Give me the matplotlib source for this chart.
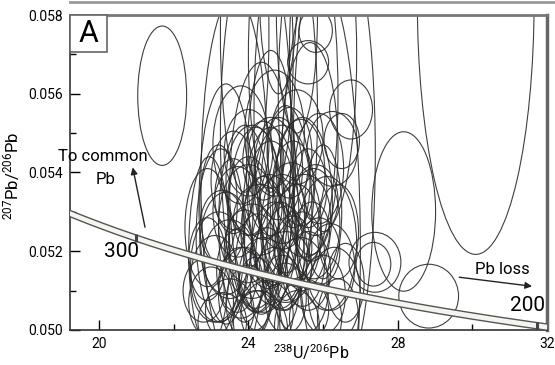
import numpy as np
import matplotlib
matplotlib.use('Agg')
from matplotlib import pyplot as plt
from matplotlib import font_manager
from matplotlib.patches import Ellipse, Rectangle
from matplotlib.lines import Line2D

# Fonts: narrow sans if present, otherwise Roboto
names = {f.name for f in font_manager.fontManager.ttflist}
narrow = 'Liberation Sans Narrow' if 'Liberation Sans Narrow' in names else 'Roboto'
plt.rcParams['font.family'] = [narrow, 'DejaVu Sans']
plt.rcParams['mathtext.fontset'] = 'custom'
plt.rcParams['mathtext.rm'] = narrow
plt.rcParams['mathtext.it'] = narrow

# Error ellipses: centre (238U/206Pb, 207Pb/206Pb), full width, full height
ell_x = [23.63, 23.9, 24.2, 24.6, 25.0, 25.3, 25.6, 26.0, 25.9, 26.3, 24.8,
         23.4, 24.35, 24.6, 25.65, 24.2, 23.9, 24.6, 23.25, 22.95, 25.45, 25.0,
         25.6, 26.75, 25.8, 26.25, 26.5,
         23.1, 23.5, 23.8, 24.1, 24.4, 24.7, 25.0, 25.3, 25.6, 25.9,
         23.3, 23.7, 24.0, 24.3, 24.6, 24.9, 25.2, 25.5, 25.8, 24.8, 24.4, 25.1,
         23.0, 23.5, 24.0, 24.5, 25.0, 25.5, 26.0, 22.9, 26.2, 26.4,
         23.9, 24.5, 25.2, 24.2, 24.9, 25.7, 23.6, 25.9, 26.6,
         27.39, 27.35, 28.16, 28.83, 21.69, 30.09,
         22.8, 23.2, 26.0, 24.7, 23.8, 24.3, 25.3, 26.4,
         23.4, 23.7, 24.0, 24.25, 24.55, 24.85, 25.15, 25.45, 25.75, 23.2,
         24.1, 24.9, 25.4, 23.9, 24.7, 25.4, 26.1, 22.9, 24.4, 25.0,
         23.6, 25.6, 24.2, 25.8, 23.3, 26.3, 24.6, 25.3, 24.0]
ell_y = [0.0538, 0.0575, 0.0550, 0.0570, 0.0555, 0.0580, 0.0560, 0.0570, 0.0520, 0.0545, 0.0585,
         0.0532, 0.0536, 0.0541, 0.0546, 0.0528, 0.0527, 0.0529, 0.0524, 0.0520, 0.0532, 0.0531,
         0.0568, 0.0556, 0.0576, 0.0546, 0.0548,
         0.0513, 0.0518, 0.0512, 0.0520, 0.0514, 0.0522, 0.0516, 0.0524, 0.0515, 0.0520,
         0.0526, 0.0530, 0.0534, 0.0528, 0.0536, 0.0530, 0.0537, 0.0529, 0.0533, 0.0541, 0.0543, 0.0545,
         0.0507, 0.0505, 0.0507, 0.0504, 0.0508, 0.0505, 0.0509, 0.0518, 0.0516, 0.0525,
         0.0523, 0.0519, 0.0521, 0.0512, 0.0512, 0.0525, 0.0538, 0.0541, 0.0512,
         0.05172, 0.05167, 0.05301, 0.05086, 0.05595, 0.05838,
         0.0510, 0.0532, 0.0530, 0.0550, 0.0547, 0.0500, 0.0501, 0.0503,
         0.0522, 0.0515, 0.0527, 0.0517, 0.0525, 0.0519, 0.0527, 0.0518, 0.0527, 0.0516,
         0.0538, 0.0537, 0.0540, 0.0509, 0.0510, 0.0511, 0.0522, 0.0526, 0.0531, 0.0523,
         0.0534, 0.0536, 0.0502, 0.0503, 0.0502, 0.0509, 0.0545, 0.0549, 0.0545]
ell_w = [1.8, 1.3, 1.9, 1.2, 1.7, 1.1, 1.6, 1.8, 2.2, 2.2, 1.0,
         1.45, 1.7, 1.3, 1.5, 1.5, 1.4, 1.5, 1.3, 1.1, 1.6, 1.4,
         1.1, 1.15, 0.9, 1.35, 0.95,
         1.3, 1.4, 1.2, 1.5, 1.3, 1.2, 1.4, 1.3, 1.2, 1.1,
         1.2, 1.3, 1.1, 1.4, 1.2, 1.3, 1.1, 1.4, 1.2, 1.3, 1.1, 1.2,
         1.2, 1.3, 1.2, 1.4, 1.1, 1.3, 1.2, 1.0, 1.3, 1.1,
         1.0, 0.9, 1.0, 0.9, 1.0, 0.95, 1.2, 1.3, 1.0,
         1.39, 0.93, 1.71, 1.6, 1.31, 3.13,
         1.1, 1.0, 1.0, 1.6, 1.5, 1.5, 1.2, 1.1,
         1.4, 1.1, 1.6, 1.2, 1.5, 1.3, 1.6, 1.2, 1.4, 1.5,
         1.4, 1.5, 1.3, 1.4, 1.3, 1.5, 1.6, 1.2, 1.0, 1.0,
         1.0, 1.0, 1.2, 1.4, 1.3, 1.4, 1.2, 1.4, 1.3]
ell_h = [0.0094, 0.0080, 0.0100, 0.0070, 0.0095, 0.0060, 0.0085, 0.0090, 0.0140, 0.0120, 0.0050,
         0.0061, 0.0064, 0.0060, 0.0054, 0.0047, 0.0050, 0.0045, 0.0044, 0.0048, 0.0044, 0.0052,
         0.0011, 0.0015, 0.0011, 0.0019, 0.0014,
         0.0022, 0.0020, 0.0018, 0.0024, 0.0019, 0.0021, 0.0018, 0.0026, 0.0020, 0.0017,
         0.0019, 0.0023, 0.0020, 0.0018, 0.0024, 0.0019, 0.0022, 0.0021, 0.0018, 0.0026, 0.0020, 0.0023,
         0.0018, 0.0016, 0.0019, 0.0017, 0.0018, 0.0016, 0.0020, 0.0021, 0.0022, 0.0024,
         0.0015, 0.0014, 0.0016, 0.0013, 0.0014, 0.0015, 0.0025, 0.0028, 0.0020,
         0.00152, 0.00111, 0.00405, 0.00162, 0.00354, 0.01292,
         0.0016, 0.0030, 0.0034, 0.0032, 0.0030, 0.0020, 0.0018, 0.0020,
         0.0026, 0.0021, 0.0030, 0.0025, 0.0029, 0.0027, 0.0031, 0.0024, 0.0028, 0.0028,
         0.0028, 0.0030, 0.0027, 0.0024, 0.0022, 0.0025, 0.0034, 0.0030, 0.0016, 0.0017,
         0.0019, 0.0020, 0.0016, 0.0018, 0.0015, 0.0024, 0.0018, 0.0024, 0.0022]

# Concordia (Tera-Wasserburg) and labelled ages
lam238 = 1.55125e-10
lam235 = 9.8485e-10
u_ratio = 137.88
band_half = 0.00008
label_ages = [300, 200]  # Ma


def tw_point(t_ma):
    t = np.asarray(t_ma) * 1e6
    e238 = np.exp(lam238 * t) - 1
    e235 = np.exp(lam235 * t) - 1
    return 1 / e238, e235 / e238 / u_ratio


fig = plt.figure(figsize=(5.55, 3.65), dpi=100)
ax = fig.add_axes([0.1261, 0.0959, 0.8595, 0.8630])

for x, y, w, h in zip(ell_x, ell_y, ell_w, ell_h):
    ax.add_patch(Ellipse((x, y), w, h, fill=False, ec='#2a2a2a', lw=0.8, alpha=0.9, zorder=2))

ages = np.linspace(190, 340, 400)
cx, cy = tw_point(ages)
ax.fill_between(cx, cy - band_half, cy + band_half, color='#f4f4f0', zorder=3, lw=0)
ax.plot(cx, cy + band_half, color='#555555', lw=1.0, zorder=4)
ax.plot(cx, cy - band_half, color='#555555', lw=1.0, zorder=4)
for a in label_ages:
    px, py = tw_point(a)
    ax.plot([px, px], [py - band_half * 1.2, py + band_half * 1.2], color='#444444', lw=2.2,
            solid_capstyle='butt', zorder=5)

# Annotations
ax.text(20.10, 0.05441, 'To common', ha='center', va='center', fontsize=12, zorder=6)
ax.text(20.16, 0.05382, 'Pb', ha='center', va='center', fontsize=12, zorder=6)
ax.annotate('', xy=(20.90, 0.05413), xytext=(21.23, 0.05261), zorder=6,
            arrowprops=dict(arrowstyle='-|>', color='#222222', lw=1.0, mutation_scale=10,
                            shrinkA=0, shrinkB=0))
ax.text(20.61, 0.0520, '300', ha='center', va='center', fontsize=15, zorder=6)
ax.text(30.80, 0.05154, 'Pb loss', ha='center', va='center', fontsize=12, zorder=6)
ax.annotate('', xy=(31.60, 0.05111), xytext=(29.65, 0.05134), zorder=6,
            arrowprops=dict(arrowstyle='-|>', color='#222222', lw=1.0, mutation_scale=10,
                            shrinkA=0, shrinkB=0))
ax.text(31.48, 0.05063, '200', ha='center', va='center', fontsize=15, zorder=6)

# Panel letter
ax.add_patch(Rectangle((0, 1 - 0.1175), 0.0776, 0.1175, transform=ax.transAxes, fc='white',
                       ec='#666666', lw=1.2, zorder=7, clip_on=False))
ax.text(0.0388, 1 - 0.0588, 'A', transform=ax.transAxes, ha='center', va='center',
        fontsize=22, zorder=8)

# Axes
ax.set_xlim(19.22, 32.0)
ax.set_ylim(0.050, 0.058)
ax.set_xticks([20, 24, 28, 32])
ax.set_xticks([22, 26, 30], minor=True)
ax.set_yticks(np.arange(0.050, 0.0581, 0.002))
ax.set_yticks(np.arange(0.051, 0.058, 0.002), minor=True)
ax.set_yticklabels(['0.050', '0.052', '0.054', '0.056', '0.058'])
ax.tick_params(which='major', direction='in', length=7, width=1.0, labelsize=10, pad=5)
ax.tick_params(which='minor', direction='in', length=4, width=1.0)
ax.set_xlabel(r'$^{238}$U/$^{206}$Pb', fontsize=11.5)
ax.set_ylabel(r'$^{207}$Pb/$^{206}$Pb', fontsize=12)
ax.xaxis.set_label_coords(0.505, -0.04)
ax.yaxis.set_label_coords(-0.1, 0.49)
for side in ['left', 'bottom']:
    ax.spines[side].set_color('#333333')
    ax.spines[side].set_linewidth(1.2)
ax.spines['top'].set_color('#777777')
ax.spines['top'].set_linewidth(2.0)
ax.spines['right'].set_color('#666666')
ax.spines['right'].set_linewidth(2.5)

fig.add_artist(Line2D([0.1261, 1.0], [0.994, 0.994], color='#999999', lw=2.0))

fig.savefig('out.png', dpi=100)
